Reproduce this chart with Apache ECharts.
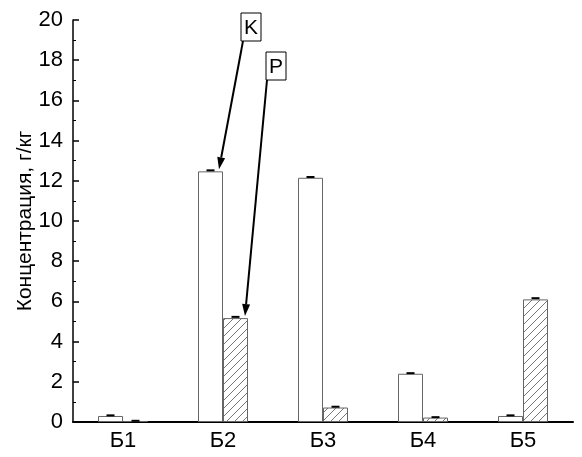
<!DOCTYPE html>
<html>
<head>
<meta charset="utf-8">
<script src="https://cdn.jsdelivr.net/npm/echarts@6/dist/echarts.min.js"></script>
<style>
  html, body { margin: 0; padding: 0; background: #fff; }
  #chart { width: 582px; height: 457px; }
</style>
</head>
<body>
<div id="chart"></div>
<script>
const categories = ["Б1", "Б2", "Б3", "Б4", "Б5"];
const kValues = [0.3, 12.47, 12.15, 2.4, 0.3];
const kErrors = [0.03, 0.05, 0.04, 0.03, 0.03];
const pValues = [0.05, 5.17, 0.72, 0.22, 6.1];
const pErrors = [0.01, 0.06, 0.04, 0.02, 0.06];
const yTicks = [0, 2, 4, 6, 8, 10, 12, 14, 16, 18, 20];

const FONT = "Liberation Sans";
const BAR_W = 25;

function hatchPattern() {
  const c = document.createElement("canvas");
  c.width = 8;
  c.height = 8;
  const ctx = c.getContext("2d");
  ctx.fillStyle = "#fff";
  ctx.fillRect(0, 0, 8, 8);
  ctx.strokeStyle = "#777";
  ctx.lineWidth = 1;
  ctx.beginPath();
  ctx.moveTo(-1, 9); ctx.lineTo(9, -1);
  ctx.moveTo(-1, 1); ctx.lineTo(1, -1);
  ctx.moveTo(7, 9); ctx.lineTo(9, 7);
  ctx.stroke();
  return c;
}

function errorSeries(values, errors, offset) {
  return {
    type: "custom",
    z: 5,
    data: values.map((v, i) => [i, v, errors[i]]),
    renderItem: (params, api) => {
      const p = api.coord([api.value(0), api.value(1) + api.value(2)]);
      return {
        type: "rect",
        shape: { x: p[0] + offset - 4, y: p[1] - 1, width: 8, height: 2 },
        style: { fill: "#000" }
      };
    }
  };
}

const chart = echarts.init(document.getElementById("chart"));

chart.setOption({
  animation: false,
  backgroundColor: "#fff",
  grid: { left: 73, right: 9, top: 20, bottom: 35, outerBoundsMode: "none", containLabel: false },
  xAxis: {
    type: "category",
    data: categories,
    axisLine: { lineStyle: { color: "#000", width: 2 } },
    axisTick: { show: false },
    axisLabel: { color: "#000", fontFamily: FONT, fontSize: 22, margin: 8 }
  },
  yAxis: {
    type: "value",
    min: 0,
    max: 20,
    interval: 2,
    name: "Концентрация, г/кг",
    nameLocation: "middle",
    nameGap: 37,
    nameMoveOverlap: false,
    nameTextStyle: { color: "#000", fontFamily: FONT, fontSize: 21 },
    axisLine: { show: true, lineStyle: { color: "#000", width: 1.5 } },
    axisTick: { show: true, inside: true, length: 6, lineStyle: { color: "#000", width: 1.5 } },
    minorTick: { show: true, splitNumber: 2, length: 3, lineStyle: { color: "#000", width: 1 } },
    splitLine: { show: false },
    axisLabel: {
      color: "#000",
      fontFamily: FONT,
      fontSize: 22,
      margin: 10,
      formatter: v => (yTicks.includes(v) ? String(v) : "")
    }
  },
  series: [
    {
      name: "K",
      type: "bar",
      data: kValues,
      barWidth: BAR_W,
      barGap: "0%",
      itemStyle: { color: "#fff", borderColor: "#666", borderWidth: 1 }
    },
    {
      name: "P",
      type: "bar",
      data: pValues,
      barWidth: BAR_W,
      itemStyle: {
        color: { image: hatchPattern(), repeat: "repeat" },
        borderColor: "#666",
        borderWidth: 1
      }
    },
    errorSeries(kValues, kErrors, -BAR_W / 2),
    errorSeries(pValues, pErrors, BAR_W / 2)
  ]
});

// annotation arrows pointing at Б2 bars
function arrow(from, to) {
  const dx = to[0] - from[0], dy = to[1] - from[1];
  const len = Math.sqrt(dx * dx + dy * dy);
  const ux = dx / len, uy = dy / len;
  const headLen = 12, headW = 4;
  const bx = to[0] - ux * headLen, by = to[1] - uy * headLen;
  return [
    {
      type: "line",
      shape: { x1: from[0], y1: from[1], x2: bx, y2: by },
      style: { stroke: "#000", lineWidth: 2 }
    },
    {
      type: "polygon",
      shape: { points: [to, [bx - uy * headW, by + ux * headW], [bx + uy * headW, by - ux * headW]] },
      style: { fill: "#000" }
    }
  ];
}

function labelBox(x, y, text) {
  return [
    {
      type: "rect",
      shape: { x: x, y: y, width: 20, height: 28 },
      style: { fill: "#fff", stroke: "#000", lineWidth: 1 }
    },
    {
      type: "text",
      x: x + 10,
      y: y + 15,
      style: { text: text, fill: "#000", font: "21px " + FONT, align: "center", verticalAlign: "middle" }
    }
  ];
}

const kTop = chart.convertToPixel({ gridIndex: 0 }, [1, kValues[1]]);
const pTop = chart.convertToPixel({ gridIndex: 0 }, [1, pValues[1]]);
const kTip = [kTop[0] - 4, kTop[1] - 2];
const pTip = [pTop[0] + 22, pTop[1] - 2];

chart.setOption({
  graphic: [
    ...arrow([243, 41], kTip),
    ...arrow([267, 80], pTip),
    ...labelBox(241, 13, "K"),
    ...labelBox(266, 52, "P")
  ]
});
</script>
</body>
</html>
